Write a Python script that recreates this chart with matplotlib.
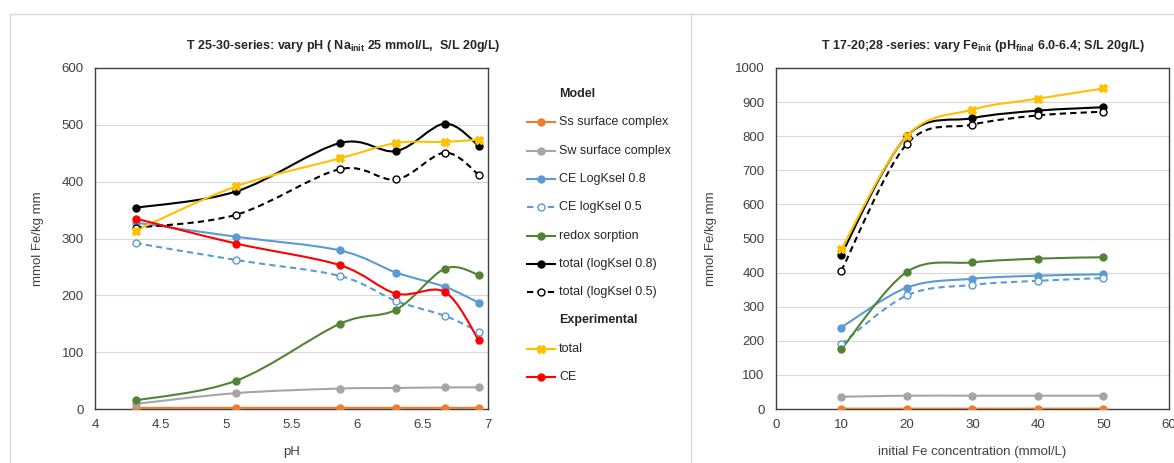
import numpy as np
import matplotlib.pyplot as plt
from matplotlib.path import Path
from matplotlib.patches import PathPatch
from matplotlib.lines import Line2D

plt.rcParams['font.family'] = ['Liberation Sans', 'DejaVu Sans']

# T 25-30 series: sorbed Fe vs pH
ph = [4.31, 5.08, 5.87, 6.30, 6.67, 6.93]
ph_ss = [2, 2, 2, 2, 2, 2]
ph_sw = [9, 28, 36, 37, 38, 38]
ph_ce08 = [328, 303, 279, 240, 215, 187]
ph_ce05 = [292, 262, 234, 190, 164, 136]
ph_redox = [15, 50, 150, 175, 247, 236]
ph_tot08 = [354, 383, 468, 454, 502, 463]
ph_tot05 = [319, 342, 422, 404, 451, 412]
ph_exp_tot = [314, 392, 441, 468, 470, 474]
ph_exp_ce = [335, 291, 253, 203, 206, 121]

# T 17-20;28 series: sorbed Fe vs initial Fe
fe = [10, 20, 30, 40, 50]
fe_ss = [1, 1, 1, 1, 1]
fe_sw = [36, 39, 39, 39, 39]
fe_ce08 = [239, 356, 382, 391, 395]
fe_ce05 = [190, 333, 364, 376, 384]
fe_redox = [175, 402, 430, 441, 445]
fe_tot08 = [453, 800, 853, 875, 885]
fe_tot05 = [405, 777, 834, 861, 872]
fe_exp_tot = [468, 800, 878, 910, 940]

labels = ['Ss surface complex', 'Sw surface complex', 'CE LogKsel 0.8', 'CE logKsel 0.5',
          'redox sorption', 'total (logKsel 0.8)', 'total (logKsel 0.5)', 'total', 'CE']

# colour, linestyle, marker, marker face
styles = {
    'Ss surface complex': ('#ED7D31', '-', 'o', '#ED7D31'),
    'Sw surface complex': ('#A5A5A5', '-', 'o', '#A5A5A5'),
    'CE LogKsel 0.8': ('#5B9BD5', '-', 'o', '#5B9BD5'),
    'CE logKsel 0.5': ('#5B9BD5', (0, (3, 2)), 'o', 'white'),
    'redox sorption': ('#548235', '-', 'o', '#548235'),
    'total (logKsel 0.8)': ('black', '-', 'o', 'black'),
    'total (logKsel 0.5)': ('black', (0, (3, 2)), 'o', 'white'),
    'total': ('#FFC000', '-', 'X', '#FFC000'),
    'CE': ('#FF0000', '-', 'o', '#FF0000'),
}

W, H = 1174, 463
fig = plt.figure(figsize=(W / 100, H / 100), dpi=100)


def smooth_path(x, y, t=1 / 6):
    # smoothed line through the points (cubic Bezier, Catmull-Rom control points)
    p = np.column_stack([np.asarray(x, float), np.asarray(y, float)])
    n = len(p)
    verts, codes = [p[0]], [Path.MOVETO]
    for i in range(n - 1):
        p0 = p[i - 1] if i > 0 else p[i]
        p3 = p[i + 2] if i + 2 < n else p[i + 1]
        verts += [p[i] + (p[i + 1] - p0) * t, p[i + 1] - (p3 - p[i]) * t, p[i + 1]]
        codes += [Path.CURVE4] * 3
    return Path(verts, codes)


def marker_size(mk):
    return 6 if mk == 'X' else 5


def draw_series(ax, x, y, name):
    col, ls, mk, face = styles[name]
    ax.add_patch(PathPatch(smooth_path(x, y), fill=False, edgecolor=col, lw=1.5,
                           linestyle=ls, zorder=3))
    ax.plot(x, y, linestyle='none', marker=mk, ms=marker_size(mk), mfc=face, mec=col,
            mew=1, zorder=4)


def setup(ax, xlim, xticks, ylim, yticks, xlabel):
    ax.set_xlim(*xlim)
    ax.set_ylim(*ylim)
    ax.set_xticks(xticks)
    ax.set_yticks(yticks)
    ax.set_xticklabels([f'{v:g}' for v in xticks])
    ax.grid(axis='y', color='#D9D9D9', lw=0.8)
    ax.set_axisbelow(True)
    for s in ax.spines.values():
        s.set_color('#404040')
        s.set_linewidth(1)
    ax.tick_params(length=0, labelsize=9.5, colors='#404040', pad=8)
    ax.tick_params(axis='x', pad=7)
    ax.set_ylabel('mmol Fe/kg mm', fontsize=9.5, color='#404040', labelpad=13)
    ax.set_xlabel(xlabel, fontsize=9.5, color='#404040', labelpad=11)


ax1 = fig.add_axes([95 / W, 1 - 409 / H, (488 - 95) / W, (409 - 68) / H])
ph_data = [ph_ss, ph_sw, ph_ce08, ph_ce05, ph_redox, ph_tot08, ph_tot05, ph_exp_tot, ph_exp_ce]
for name, y in zip(labels, ph_data):
    draw_series(ax1, ph, y, name)
setup(ax1, (4, 7), [4, 4.5, 5, 5.5, 6, 6.5, 7], (0, 600), range(0, 601, 100), 'pH')

ax2 = fig.add_axes([775.7 / W, 1 - 409 / H, (1169 - 775.7) / W, (409 - 68) / H])
fe_data = [fe_ss, fe_sw, fe_ce08, fe_ce05, fe_redox, fe_tot08, fe_tot05, fe_exp_tot]
for name, y in zip(labels, fe_data):
    draw_series(ax2, fe, y, name)
setup(ax2, (0, 60), range(0, 61, 10), (0, 1000), range(0, 1001, 100),
      'initial Fe concentration (mmol/L)')

fig.text(343 / W, 1 - 46 / H, 'T 25-30-series: vary pH ( Na$_{\\mathregular{init}}$ 25 mmol/L,  S/L 20g/L)',
         ha='center', va='center', fontsize=9, fontweight='bold', color='#262626')
fig.text(983 / W, 1 - 46 / H, 'T 17-20;28 -series: vary Fe$_{\\mathregular{init}}$ (pH$_{\\mathregular{final}}$ 6.0-6.4; S/L 20g/L)',
         ha='center', va='center', fontsize=9, fontweight='bold', color='#262626')

# legend of the pH chart, with group headers
rows = ['Model'] + labels[:7] + ['Experimental'] + labels[7:]
for k, name in enumerate(rows):
    yy = 1 - (94 + 28.3 * k) / H
    if name in styles:
        col, ls, mk, face = styles[name]
        fig.add_artist(Line2D([527 / W, 555 / W], [yy, yy], color=col, lw=1.5, linestyle=ls,
                              transform=fig.transFigure))
        fig.add_artist(Line2D([541 / W], [yy], marker=mk, ms=marker_size(mk), mfc=face,
                              mec=col, mew=1, transform=fig.transFigure))
        fig.text(559 / W, yy, name, va='center', fontsize=9, color='#262626')
    else:
        fig.text(559 / W, yy, name, va='center', fontsize=9, fontweight='bold', color='#262626')

# panel borders
for line in [([9.5 / W, 9.5 / W], [1 - 13.5 / H, 0]), ([690.5 / W, 690.5 / W], [1 - 13.5 / H, 0]),
             ([9.5 / W, 1], [1 - 13.5 / H, 1 - 13.5 / H])]:
    fig.add_artist(Line2D(*line, color='#D9D9D9', lw=1, transform=fig.transFigure))

fig.savefig('out.png', dpi=100)
